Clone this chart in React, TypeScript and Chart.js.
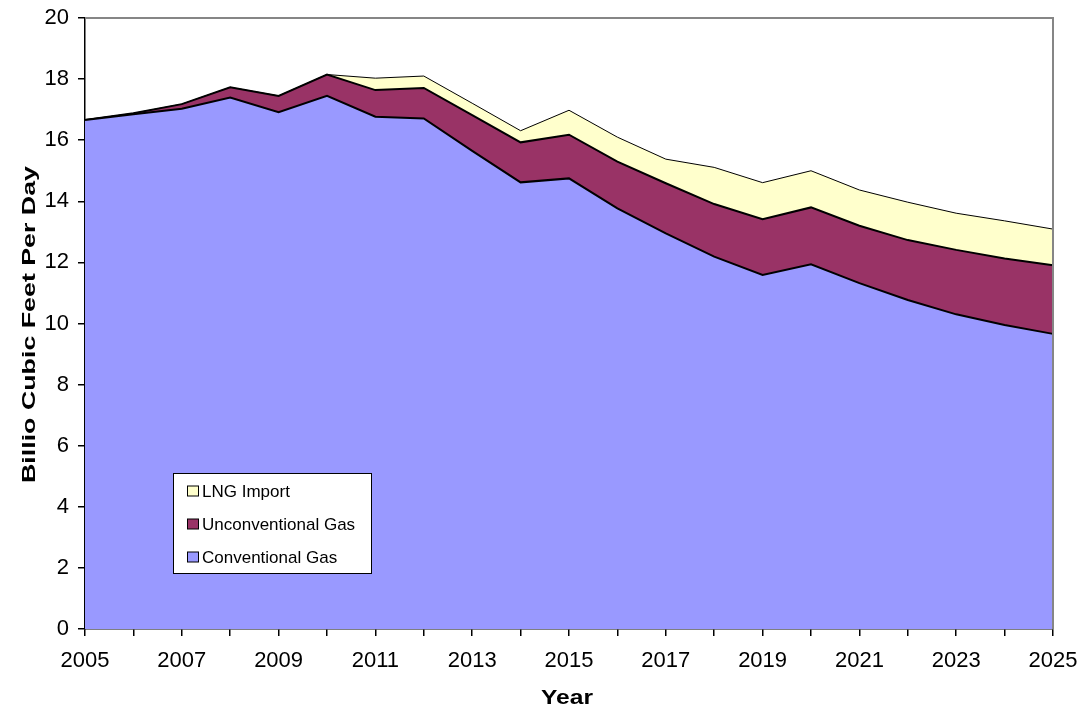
import React, { useEffect, useRef } from 'react';
import { Chart, registerables } from 'chart.js';

Chart.register(...registerables);

const YEARS = ['2005', '2006', '2007', '2008', '2009', '2010', '2011', '2012', '2013', '2014', '2015', '2016', '2017', '2018', '2019', '2020', '2021', '2022', '2023', '2024', '2025'];
const CONVENTIONAL = [16.66, 16.85, 17.03, 17.40, 16.92, 17.45, 16.77, 16.71, 15.65, 14.62, 14.75, 13.77, 12.95, 12.19, 11.59, 11.94, 11.32, 10.77, 10.30, 9.95, 9.66];
const UNCONVENTIONAL = [0, 0.03, 0.15, 0.33, 0.53, 0.70, 0.87, 1.00, 1.17, 1.31, 1.43, 1.53, 1.64, 1.72, 1.82, 1.86, 1.88, 1.96, 2.11, 2.18, 2.25];
const LNG_IMPORT = [0, 0, 0, 0, 0, 0, 0.39, 0.39, 0.39, 0.38, 0.8, 0.8, 0.79, 1.2, 1.2, 1.2, 1.17, 1.24, 1.2, 1.23, 1.18];
const SERIES_NAMES = ['Conventional Gas', 'Unconventional Gas', 'LNG Import'];
const SERIES_COLORS = ['#9999FF', '#993366', '#FFFFCC'];
const Y_TITLE = 'Billio Cubic Feet Per Day';
const X_TITLE = 'Year';

const FONT = "'Liberation Sans', Arial, Helvetica, sans-serif";

const decorPlugin = {
  id: 'decor',
  afterDatasetsDraw(chart: any) {
    const { ctx, chartArea: a } = chart;
    ctx.save();
    ctx.strokeStyle = '#868686';
    ctx.lineWidth = 2;
    ctx.beginPath();
    ctx.moveTo(a.left, a.top);
    ctx.lineTo(a.right, a.top);
    ctx.lineTo(a.right, a.bottom);
    ctx.stroke();
    ctx.restore();
  },
  afterDraw(chart: any) {
    const { ctx, chartArea: a } = chart;
    ctx.save();
    ctx.fillStyle = '#000';
    // Y title (stretched along its length like the reference)
    ctx.font = `bold 18px ${FONT}`;
    const yw = ctx.measureText(Y_TITLE).width;
    ctx.save();
    ctx.translate(35, (a.top + a.bottom) / 2 + 1);
    ctx.rotate(-Math.PI / 2);
    ctx.scale(317 / yw, 1);
    ctx.textAlign = 'center';
    ctx.textBaseline = 'alphabetic';
    ctx.fillText(Y_TITLE, 0, 0);
    ctx.restore();
    // X title
    ctx.font = `bold 20px ${FONT}`;
    const xw = ctx.measureText(X_TITLE).width;
    ctx.save();
    ctx.translate((a.left + a.right) / 2 - 2, 704);
    ctx.scale(52 / xw, 1);
    ctx.textAlign = 'center';
    ctx.textBaseline = 'alphabetic';
    ctx.fillText(X_TITLE, 0, 0);
    ctx.restore();

    // Legend
    const bx = 173.5, by = 473.5, bw = 198, bh = 100;
    ctx.fillStyle = '#fff';
    ctx.fillRect(bx, by, bw, bh);
    ctx.strokeStyle = '#000';
    ctx.lineWidth = 1;
    ctx.strokeRect(bx, by, bw, bh);
    const order = [2, 1, 0];
    const rows = [491, 524, 557];
    ctx.font = `17px ${FONT}`;
    ctx.textAlign = 'left';
    ctx.textBaseline = 'middle';
    order.forEach((si, r) => {
      const cy = rows[r];
      ctx.fillStyle = SERIES_COLORS[si];
      ctx.fillRect(187.5, cy - 5, 11, 10);
      ctx.strokeStyle = '#000';
      ctx.strokeRect(187.5, cy - 5, 11, 10);
      ctx.fillStyle = '#000';
      ctx.fillText(SERIES_NAMES[si], 202, cy + 1);
    });
    ctx.restore();
  },
};

export default function App() {
  const ref = useRef<HTMLCanvasElement | null>(null);

  useEffect(() => {
    if (!ref.current) return;
    const values = [CONVENTIONAL, UNCONVENTIONAL, LNG_IMPORT];
    const chart = new Chart(ref.current, {
      type: 'line',
      data: {
        labels: YEARS,
        datasets: values.map((v, i) => ({
          label: SERIES_NAMES[i],
          data: v,
          backgroundColor: SERIES_COLORS[i],
          borderColor: '#000',
          borderWidth: i === 2 ? 1 : 2,
          fill: i === 0 ? 'origin' : '-1',
          pointRadius: 0,
          tension: 0,
        })),
      },
      options: {
        responsive: false,
        animation: false,
        layout: { padding: { top: 18, right: 32, left: 0, bottom: 0 } },
        plugins: {
          legend: { display: false },
          tooltip: { enabled: false },
        },
        scales: {
          x: {
            type: 'category',
            offset: false,
            z: 1,
            grid: { display: true, drawOnChartArea: false, drawTicks: true, tickLength: 7, color: '#000', lineWidth: 1.5, offset: false },
            border: { display: true, color: '#000', width: 1.5 },
            ticks: {
              autoSkip: false,
              maxRotation: 0,
              minRotation: 0,
              padding: 12,
              color: '#000',
              font: { family: FONT, size: 22 },
              callback: (_v: any, i: number) => (i % 2 === 0 ? YEARS[i] : ''),
            },
            afterFit: (s: any) => { s.height = 84; s.paddingLeft = 0; s.paddingRight = 0; },
          },
          y: {
            stacked: true,
            min: 0,
            max: 20,
            z: 1,
            grid: { display: true, drawOnChartArea: false, drawTicks: true, tickLength: 7, color: '#000', lineWidth: 1.5 },
            border: { display: true, color: '#000', width: 1.5 },
            ticks: { stepSize: 2, padding: 9, color: '#000', font: { family: FONT, size: 22 } },
            afterFit: (s: any) => { s.width = 85; s.paddingTop = 0; s.paddingBottom = 0; },
          },
        },
      },
      plugins: [decorPlugin],
    } as any);
    return () => chart.destroy();
  }, []);

  return (
    <div style={{ position: 'fixed', left: 0, top: 0, width: 1085, height: 713, background: '#fff' }}>
      <canvas ref={ref} width={1085} height={713} style={{ display: 'block' }} />
    </div>
  );
}
